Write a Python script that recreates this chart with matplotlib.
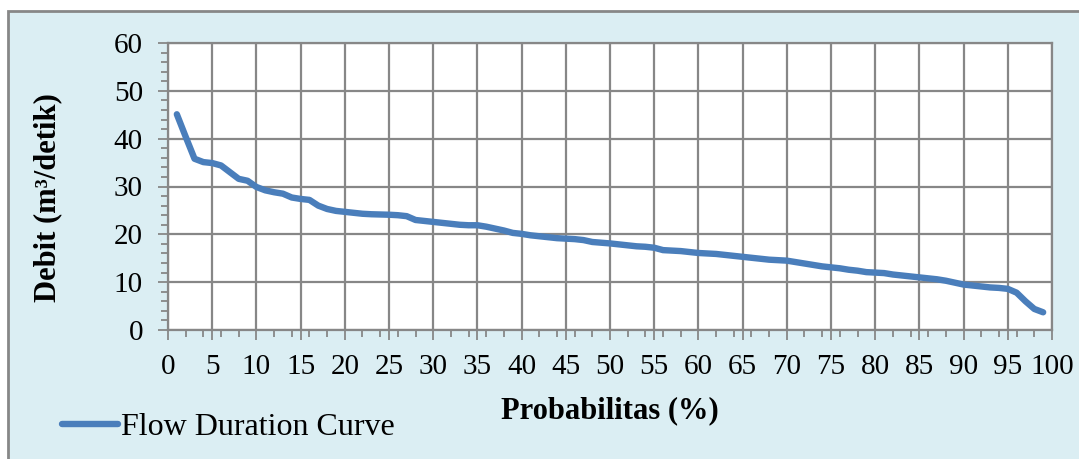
import numpy as np
import matplotlib
matplotlib.use("Agg")
import matplotlib.pyplot as plt
from matplotlib.patches import Rectangle
from matplotlib.ticker import MultipleLocator

# probability of exceedance (%) and discharge (m3/s)
prob = list(range(1, 100))
debit = [45.1, 40.4, 35.8, 35.1, 34.9, 34.4, 33.0, 31.6, 31.2, 29.9,
         29.2, 28.8, 28.5, 27.7, 27.4, 27.2, 26.0, 25.3, 24.9, 24.7,
         24.5, 24.3, 24.2, 24.15, 24.1, 24.0, 23.8, 23.0, 22.8, 22.6,
         22.4, 22.2, 22.0, 21.9, 21.9, 21.6, 21.2, 20.8, 20.3, 20.1,
         19.8, 19.6, 19.4, 19.2, 19.1, 19.0, 18.8, 18.4, 18.25, 18.1,
         17.9, 17.7, 17.5, 17.4, 17.2, 16.7, 16.6, 16.5, 16.3, 16.1,
         16.0, 15.9, 15.7, 15.5, 15.3, 15.1, 14.9, 14.7, 14.6, 14.5,
         14.2, 13.9, 13.6, 13.3, 13.1, 12.9, 12.6, 12.4, 12.1, 12.0,
         11.9, 11.6, 11.4, 11.2, 11.0, 10.8, 10.6, 10.3, 9.9, 9.5,
         9.3, 9.1, 8.9, 8.8, 8.6, 7.8, 6.0, 4.4, 3.7]

BG = "#dbeef3"
GRID = "#878787"
LINE = "#4a7ebb"
FS = 21

plt.rcParams["font.family"] = ["Liberation Serif", "DejaVu Serif"]

W, H = 1079, 459
fig = plt.figure(figsize=(W / 100, H / 100), dpi=100)
fig.patch.set_facecolor("white")
# light blue chart area with grey border (cut by the image edge on right/bottom)
fig.patches.append(Rectangle((8 / W, -0.1), 1.2, 1 - 11 / H + 0.1,
                             transform=fig.transFigure, facecolor=BG,
                             edgecolor=GRID, linewidth=2, zorder=-10))

ax = fig.add_axes([168 / W, 1 - 330 / H, (1052 - 168) / W, (330 - 43) / H])
ax.set_zorder(5)
ax.set_facecolor("white")
ax.plot(prob, debit, color=LINE, linewidth=4.6, solid_capstyle="round",
        solid_joinstyle="round", label="Flow Duration Curve", zorder=3)

ax.set_xlim(0, 100)
ax.set_ylim(0, 60)
ax.xaxis.set_major_locator(MultipleLocator(5))
ax.xaxis.set_minor_locator(MultipleLocator(2))
ax.yaxis.set_major_locator(MultipleLocator(10))
ax.yaxis.set_minor_locator(MultipleLocator(2))
ax.grid(True, which="major", color=GRID, linewidth=1.6)
ax.set_axisbelow(True)
for s in ax.spines.values():
    s.set_color(GRID)
    s.set_linewidth(1.6)
ax.tick_params(which="both", color=GRID, width=1.3, labelsize=FS,
               direction="out")
ax.tick_params(which="major", length=7)
ax.tick_params(which="minor", length=5)
ax.tick_params(axis="y", which="major", pad=11)
ax.tick_params(axis="x", which="major", pad=10)

ax.set_xlabel("Probabilitas (%)", fontsize=FS + 1, fontweight="bold", labelpad=12)
ax.set_ylabel("Debit (m\u00b3/detik)", fontsize=FS + 1, fontweight="bold")
ax.yaxis.set_label_coords(-0.12, 0.46)

ax.legend(loc="lower left", bbox_to_anchor=(62 / W, 17 / H),
          bbox_transform=fig.transFigure, frameon=False, fontsize=FS + 2,
          handlelength=1.75, handletextpad=0.1, borderpad=0, borderaxespad=0)

fig.savefig("out.png", dpi=100, facecolor=fig.get_facecolor())
